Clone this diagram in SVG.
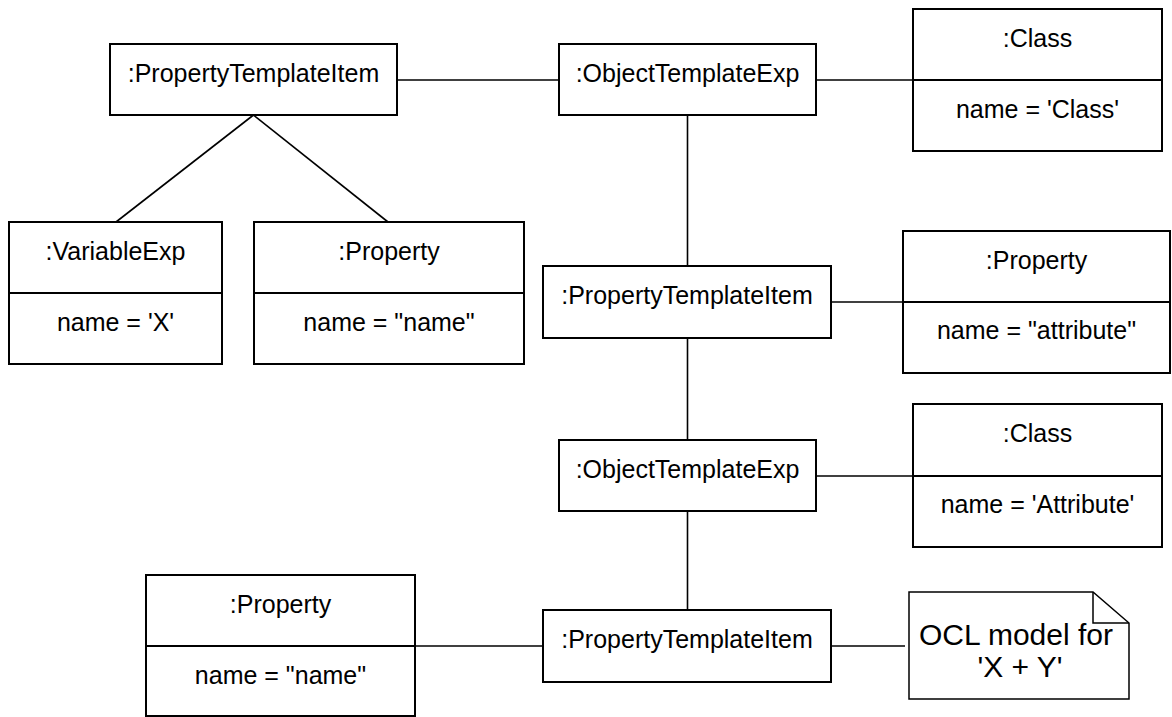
<svg xmlns="http://www.w3.org/2000/svg" width="1172" height="717" viewBox="0 0 1172 717">
<style>
.box{fill:#fff;stroke:#000;stroke-width:2}
.div{stroke:#000;stroke-width:2}
.con{stroke:#000;stroke-width:1.6;fill:none}
text{font-family:"Liberation Sans",Arial,sans-serif;font-size:25px;fill:#000;text-anchor:middle}
.note{font-size:30px}
</style>
<rect width="1172" height="717" fill="#fff"/>
<g id="connectors">
<line class="con" x1="397" y1="80" x2="559" y2="80"/>
<line class="con" x1="816" y1="80" x2="913" y2="80"/>
<line class="con" x1="253.5" y1="115" x2="116" y2="222"/>
<line class="con" x1="253.5" y1="115" x2="388" y2="222"/>
<line class="con" x1="687.5" y1="115" x2="687.5" y2="266"/>
<line class="con" x1="831" y1="302" x2="903" y2="302"/>
<line class="con" x1="687.5" y1="338" x2="687.5" y2="440"/>
<line class="con" x1="816" y1="476" x2="913" y2="476"/>
<line class="con" x1="687.5" y1="511" x2="687.5" y2="610"/>
<line class="con" x1="831" y1="646" x2="905" y2="646"/>
<line class="con" x1="415" y1="646" x2="543" y2="646"/>
</g>
<g id="pti1">
<rect class="box" x="110" y="44" width="287" height="71"/>
<text x="253.5" y="82">:PropertyTemplateItem</text>
</g>
<g id="ote1">
<rect class="box" x="559" y="44" width="257" height="71"/>
<text x="687.5" y="82">:ObjectTemplateExp</text>
</g>
<g id="class1">
<rect class="box" x="913" y="9" width="249" height="142"/>
<line class="div" x1="913" y1="80" x2="1162" y2="80"/>
<text x="1037.5" y="47">:Class</text>
<text x="1037.5" y="118">name = 'Class'</text>
</g>
<g id="varexp">
<rect class="box" x="9" y="222" width="213" height="142"/>
<line class="div" x1="9" y1="293" x2="222" y2="293"/>
<text x="115.5" y="260">:VariableExp</text>
<text x="115.5" y="331">name = 'X'</text>
</g>
<g id="property1">
<rect class="box" x="254" y="222" width="270" height="142"/>
<line class="div" x1="254" y1="293" x2="524" y2="293"/>
<text x="389" y="260">:Property</text>
<text x="389" y="331">name = "name"</text>
</g>
<g id="pti2">
<rect class="box" x="543" y="266" width="288" height="72"/>
<text x="687" y="304">:PropertyTemplateItem</text>
</g>
<g id="property2">
<rect class="box" x="903" y="231" width="267" height="142"/>
<line class="div" x1="903" y1="302" x2="1170" y2="302"/>
<text x="1036.5" y="269">:Property</text>
<text x="1036.5" y="339">name = "attribute"</text>
</g>
<g id="ote2">
<rect class="box" x="559" y="440" width="257" height="71"/>
<text x="687.5" y="478">:ObjectTemplateExp</text>
</g>
<g id="class2">
<rect class="box" x="913" y="404" width="249" height="143"/>
<line class="div" x1="913" y1="476" x2="1162" y2="476"/>
<text x="1037.5" y="442">:Class</text>
<text x="1037.5" y="513">name = 'Attribute'</text>
</g>
<g id="pti3">
<rect class="box" x="543" y="610" width="288" height="72"/>
<text x="687" y="648">:PropertyTemplateItem</text>
</g>
<g id="property3">
<rect class="box" x="146" y="575" width="269" height="141"/>
<line class="div" x1="146" y1="646" x2="415" y2="646"/>
<text x="280.5" y="613">:Property</text>
<text x="280.5" y="684">name = "name"</text>
</g>
<g id="note">
<path d="M909,592 H1093 L1129,623 V699 H909 Z" fill="#fff" stroke="#000" stroke-width="1.5"/>
<path d="M1093,592 V623 H1129" fill="none" stroke="#000" stroke-width="1.5"/>
<text class="note" x="1016" y="645">OCL model for</text>
<text class="note" x="1020" y="677">'X + Y'</text>
</g>
</svg>
